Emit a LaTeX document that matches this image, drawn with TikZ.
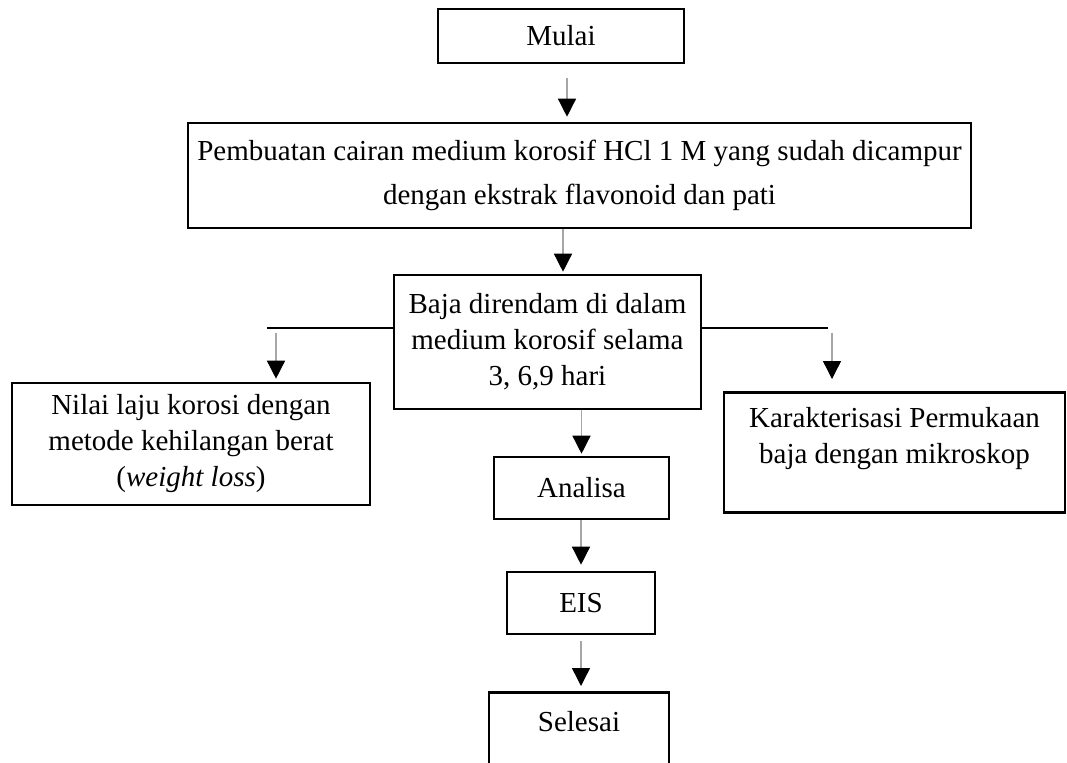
\documentclass[tikz,border=0pt]{standalone}
\usepackage{fontspec}
\setmainfont{Liberation Serif}
\usetikzlibrary{arrows.meta}
\tikzset{
  box/.style={draw, line width=1.3pt, align=center, inner sep=0pt},
  arr/.style={draw=gray!70, line width=0.7pt, -{Triangle[length=9pt,width=9pt,color=black]}},
  branch/.style={line width=1pt}
}
\begin{document}
\begin{tikzpicture}[x=0.5pt, y=-0.5pt, font=\fontsize{14.5}{18}\selectfont]
\useasboundingbox (0,0) rectangle (1067,762);
\clip (0,0) rectangle (1067,762);
% Main column
\node[box, minimum width=123pt, minimum height=27pt] (mulai) at (561,36) {Mulai};
\node[box, minimum width=391.5pt, minimum height=52.5pt, font=\fontsize{14.5}{22}\selectfont] (buat) at (579.5,175.5)
  {Pembuatan cairan medium korosif HCl 1 M yang sudah dicampur\\ dengan ekstrak flavonoid dan pati};
\node[box, minimum width=153.5pt, minimum height=67pt] (baja) at (547.5,342)
  {Baja direndam di dalam\\ medium korosif selama\\ 3, 6,9 hari};
\node[box, minimum width=87.5pt, minimum height=31pt] (analisa) at (581.5,488) {Analisa};
\node[box, minimum width=74pt, minimum height=31pt] (eis) at (581,603) {EIS};
\node[box, anchor=north, minimum width=90pt, inner ysep=9.75pt, text height=10pt, text depth=30pt] (selesai) at (579,691) {Selesai};
% Side boxes
\node[box, minimum width=179pt, minimum height=61pt] (nilai) at (191,444)
  {Nilai laju korosi dengan\\ metode kehilangan berat\\ (\textit{weight loss})};
\node[box, anchor=north, minimum width=170.5pt, inner ysep=7.75pt, text height=28pt, text depth=16.5pt] (karak) at (894.5,391)
  {Karakterisasi Permukaan\\ baja dengan mikroskop};
% Branch lines
\coordinate (kiri) at (267,328);
\coordinate (kanan) at (828,328);
\draw[branch] (kiri) -- (kiri -| baja.west);
\draw[branch] (baja.east |- kanan) -- (kanan);
% Arrows
\draw[arr, shorten <=7pt, shorten >=2.5pt] ([xshift=3pt]mulai.south) -- ([xshift=3pt]mulai.south |- buat.north);
\draw[arr, shorten >=1pt] ([xshift=7.75pt]baja.north |- buat.south) -- ([xshift=7.75pt]baja.north);
\draw[arr, shorten >=1pt] (analisa.north |- baja.south) -- (analisa.north);
\draw[arr, shorten >=3pt] (eis.north |- analisa.south) -- (eis.north);
\draw[arr, shorten <=3pt, shorten >=2.5pt] (eis.south) -- (eis.south |- selesai.north);
\draw[arr, shorten >=1.5pt] ([xshift=4.5pt,yshift=-2.5pt]kiri) -- ([xshift=4.5pt]kiri |- nilai.north);
\draw[arr, shorten >=6pt] ([xshift=2pt,yshift=-2.5pt]kanan) -- ([xshift=2pt]kanan |- karak.north);
\end{tikzpicture}
\end{document}
